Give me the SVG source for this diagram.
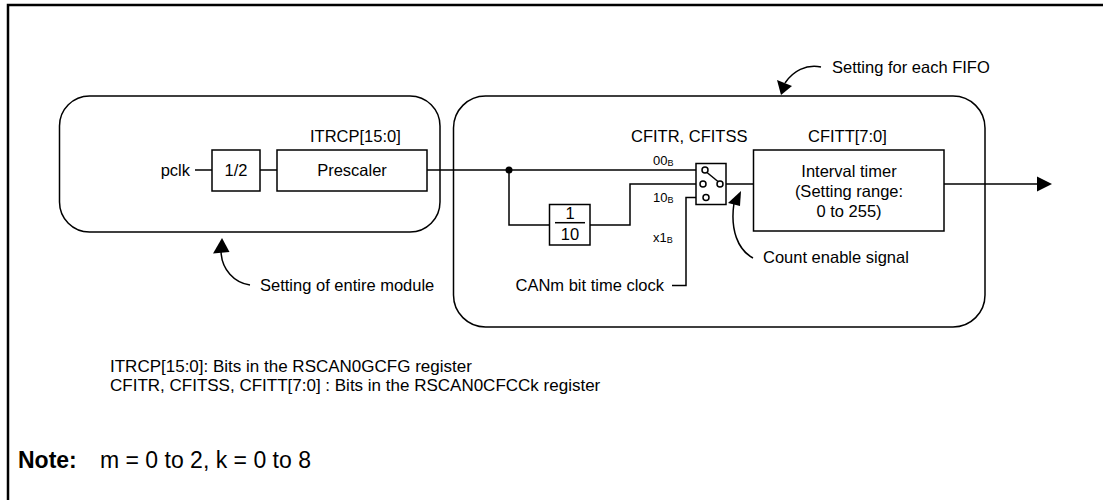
<svg xmlns="http://www.w3.org/2000/svg" width="1103" height="500" viewBox="0 0 1103 500">
<style>
text{font-family:"Liberation Sans",Arial,sans-serif;font-size:16.5px;fill:#000}
.sm{font-size:13px}
.sub{font-size:9px}
.note{font-size:17px}
.big{font-size:23px}
.b{font-weight:bold}
.box{fill:#fff;stroke:#000;stroke-width:1.5}
.grp{fill:none;stroke:#000;stroke-width:1.5}
.ln{fill:none;stroke:#000;stroke-width:1.5}
.c{text-anchor:middle}
.e{text-anchor:end}
</style>
<rect width="1103" height="500" fill="#fff"/>
<path d="M8,500 V5 H1103" fill="none" stroke="#000" stroke-width="2.5"/>

<g id="module-group">
<rect class="grp" x="59.5" y="96" width="380.5" height="136" rx="30"/>
</g>
<g id="fifo-group">
<rect class="grp" x="453.5" y="96" width="531.5" height="231" rx="32"/>
</g>

<g id="connectors">
<path class="ln" d="M195,170 H212"/>
<path class="ln" d="M260,170 H277"/>
<path class="ln" d="M427,170 H702"/>
<path class="ln" d="M509,170 V225 H549"/>
<path class="ln" d="M590,225 H630 V184 H700"/>
<path class="ln" d="M672,285.5 H686 V197.5 H703"/>
<path class="ln" d="M707,172.5 L718,181.5"/>
<path class="ln" d="M723,184 H753"/>
<path class="ln" d="M944,184 H1038"/>
<polygon points="1037,176.5 1052,184 1037,191.5" fill="#000"/>
<circle cx="509" cy="170" r="3.5" fill="#000"/>
</g>

<g id="pclk">
<text class="e" x="190" y="176">pclk</text>
</g>
<g id="div2">
<rect class="box" x="212" y="150" width="48" height="41"/>
<text class="c" x="236" y="176">1/2</text>
</g>
<g id="prescaler">
<text x="310" y="142">ITRCP[15:0]</text>
<rect class="box" x="277" y="150" width="150" height="41"/>
<text class="c" x="352" y="176">Prescaler</text>
</g>
<g id="div10">
<rect class="box" x="549.5" y="204.5" width="40.5" height="40.5"/>
<text class="c" x="570" y="219">1</text>
<path class="ln" d="M555,222.7 H585"/>
<text class="c" x="570" y="240">10</text>
</g>
<g id="switch">
<text x="631" y="142">CFITR, CFITSS</text>
<rect class="box" x="696" y="163.5" width="30" height="41"/>
<circle cx="705" cy="170" r="3" fill="#fff" stroke="#000" stroke-width="1.5"/>
<circle cx="703" cy="184" r="3" fill="#fff" stroke="#000" stroke-width="1.5"/>
<circle cx="720" cy="184" r="3" fill="#fff" stroke="#000" stroke-width="1.5"/>
<circle cx="706" cy="197.5" r="3" fill="#fff" stroke="#000" stroke-width="1.5"/>
<path class="ln" d="M707,172.5 L718,181.5"/>
<text class="sm" x="653" y="165">00<tspan class="sub" dy="1">B</tspan></text>
<text class="sm" x="653" y="202">10<tspan class="sub" dy="1">B</tspan></text>
<text class="sm" x="653" y="242">x1<tspan class="sub" dy="1">B</tspan></text>
</g>
<g id="interval-timer">
<text x="808" y="142">CFITT[7:0]</text>
<rect class="box" x="753.5" y="150" width="190.5" height="81"/>
<text class="c" x="849" y="177">Interval timer</text>
<text class="c" x="849" y="197">(Setting range:</text>
<text class="c" x="849" y="217">0 to 255)</text>
</g>
<g id="canm-clock">
<text class="e" x="664" y="291">CANm bit time clock</text>
</g>

<g id="callout-module">
<path class="ln" d="M221,250 C221,270 235,283 250,285"/>
<polygon points="222,238 213,253.5 229.5,252" fill="#000"/>
<text x="260" y="291">Setting of entire module</text>
</g>
<g id="callout-fifo">
<path class="ln" d="M821,67 C806,64 793,71 785,83"/>
<polygon points="781,95 777,80 792,86" fill="#000"/>
<text x="832" y="73">Setting for each FIFO</text>
</g>
<g id="callout-enable">
<path class="ln" d="M734,203 C730,230 738,250 753,258"/>
<polygon points="741,191 728,203 740,206" fill="#000"/>
<text x="763" y="263">Count enable signal</text>
</g>

<g id="notes">
<text class="note" x="110" y="372">ITRCP[15:0]: Bits in the RSCAN0GCFG register</text>
<text class="note" x="110" y="391">CFITR, CFITSS, CFITT[7:0] : Bits in the RSCAN0CFCCk register</text>
<text class="big b" x="18" y="468">Note:</text>
<text class="big" x="100" y="468">m = 0 to 2, k = 0 to 8</text>
</g>
</svg>
